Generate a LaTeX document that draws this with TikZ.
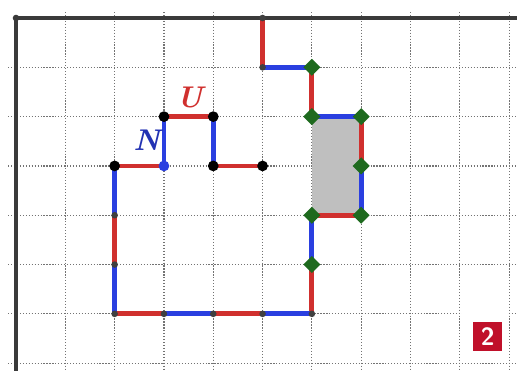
\documentclass[tikz,border=0pt]{standalone}
\usepackage{xcolor}
\usepackage{tikz}
\usetikzlibrary{positioning,shapes.geometric,calc}
\definecolor{walkR}{HTML}{D0302E}
\definecolor{walkB}{HTML}{2A3FE0}
\definecolor{walkG}{HTML}{1E6A1E}
\definecolor{axisK}{HTML}{3A3A3A}
\definecolor{badgeR}{HTML}{C0102A}
\begin{document}
\begin{tikzpicture}[x=1cm, y=-1cm,
  gridl/.style={draw=black!55, densely dotted, line width=0.7pt},
  axisl/.style={draw=axisK, line width=1.9pt},
  rseg/.style={draw=walkR, line width=2.8pt},
  bseg/.style={draw=walkB, line width=2.8pt},
  bigdot/.style={circle, fill=black, inner sep=0pt, minimum size=6.2pt},
  smalldot/.style={circle, fill=black!75, inner sep=0pt, minimum size=3.8pt},
  gem/.style={diamond, fill=walkG, inner sep=0pt, minimum size=10pt},
  tag/.style={font=\LARGE\bfseries\itshape}
]
  \useasboundingbox (-0.325,-0.365) rectangle (10.16,7.16);
  % ---- grid and axes ----
  \foreach \i in {1,...,10} \draw[gridl] (\i,-0.12) -- (\i,7.16);
  \foreach \j in {1,...,7} \draw[gridl] (-0.16,\j) -- (10.16,\j);
  \draw[axisl] (0,0) -- (10.16,0);
  \draw[axisl] (0,0) -- (0,7.16);
  \node[smalldot, fill=axisK] (orig) at (0,0) {};
  % ---- shaded cell pair ----
  \fill[black!25] (6,2) rectangle (7,4);
  % ---- walk vertices ----
  \coordinate (p0) at (5,0);   \coordinate (p1) at (5,1);
  \coordinate (p2) at (6,1);   \coordinate (p3) at (6,2);
  \coordinate (p4) at (7,2);   \coordinate (p5) at (7,3);
  \coordinate (p6) at (7,4);   \coordinate (p7) at (6,4);
  \coordinate (p8) at (6,5);   \coordinate (p9) at (6,6);
  \coordinate (p10) at (5,6);  \coordinate (p11) at (4,6);
  \coordinate (p12) at (3,6);  \coordinate (p13) at (2,6);
  \coordinate (p14) at (2,5);  \coordinate (p15) at (2,4);
  \coordinate (p16) at (2,3);  \coordinate (p17) at (3,3);
  \coordinate (p18) at (3,2);  \coordinate (p19) at (4,2);
  \coordinate (p20) at (4,3);  \coordinate (p21) at (5,3);
  \foreach \a/\b in {p0/p1,p2/p3,p4/p5,p6/p7,p8/p9,p10/p11,p12/p13,p14/p15,p16/p17,p18/p19,p20/p21}
    \draw[rseg, line cap=round] (\a) -- (\b);
  \foreach \a/\b in {p1/p2,p3/p4,p5/p6,p7/p8,p9/p10,p11/p12,p13/p14,p15/p16,p17/p18,p19/p20}
    \draw[bseg, line cap=round] (\a) -- (\b);
  % ---- markers ----
  \foreach \p in {p0,p1,p9,p10,p11,p12,p13,p14,p15}
    \node[smalldot] (d\p) at (\p) {};
  \foreach \p in {p2,p3,p4,p5,p6,p7,p8}
    \node[gem] (g\p) at (\p) {};
  \foreach \p in {p16,p18,p19,p20,p21}
    \node[bigdot] (d\p) at (\p) {};
  \node[bigdot, fill=walkB] (dp17) at (p17) {};
  % ---- labels ----
  \node[tag, text=walkR] (lblU) at (3.52,1.62) {U};
  \node[tag, text=walkB!80!black] (lblN) at (2.65,2.47) {N};
  \fill[white] (9.04,5.92) rectangle (9.96,6.93);
  \node[fill=badgeR, text=white, font=\Large\sffamily\bfseries, minimum width=0.6cm,
        minimum height=0.57cm, inner sep=0pt] (badge) at (9.565,6.46) {2};
\end{tikzpicture}
\end{document}
